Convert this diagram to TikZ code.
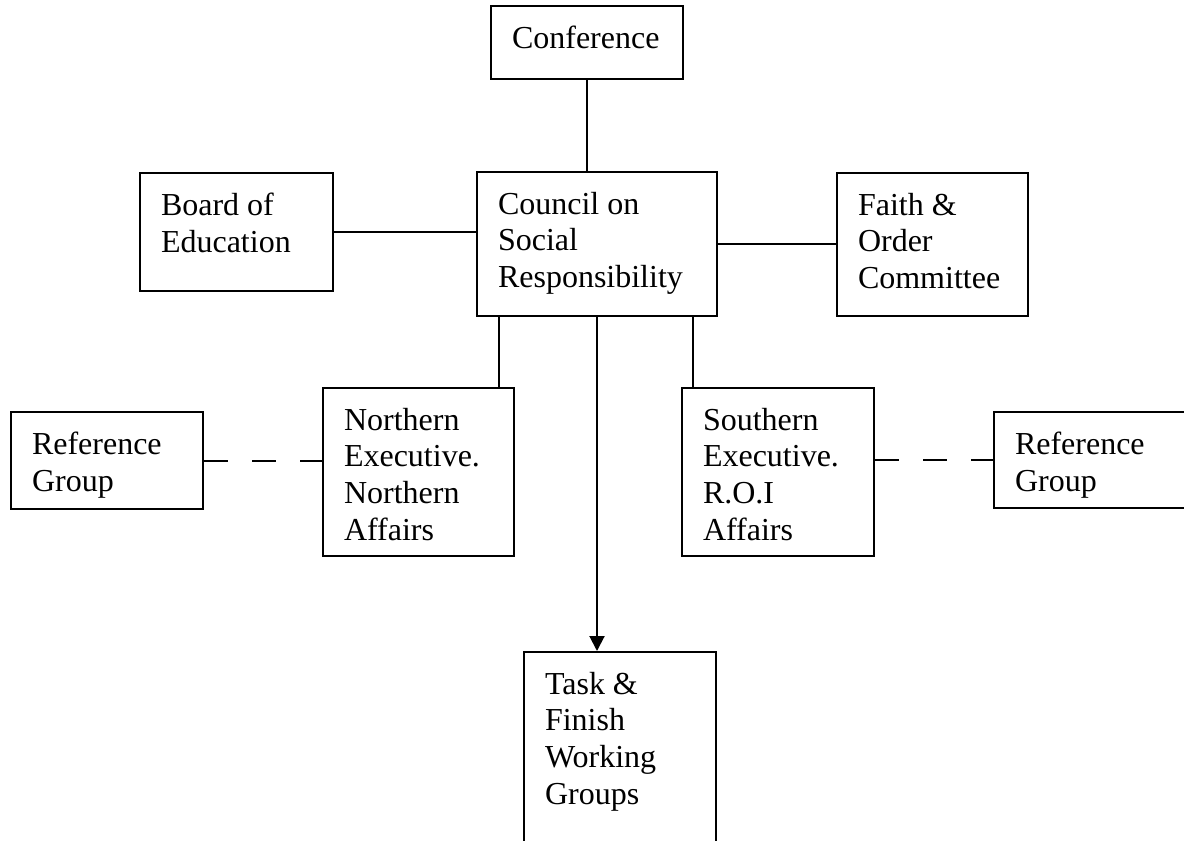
\documentclass[tikz,border=0pt]{standalone}
\usepackage{fontspec}
\setmainfont{Liberation Serif}
\usetikzlibrary{arrows.meta}
\newcommand{\boxtext}[3]{\parbox[b][#2][t]{#1}{\raggedright\leftskip=10.5pt\vspace*{10pt}#3}}
\tikzset{
    orgbox/.style={draw, line width=1pt, anchor=north west, inner sep=0pt,
        font=\fontsize{16}{18.3}\selectfont},
    orgline/.style={line width=1pt},
    reflink/.style={line width=1pt, dash pattern=on 12pt off 12pt}
}
\begin{document}
\begin{tikzpicture}[x=0.5pt, y=-0.5pt]
    \useasboundingbox (0,0) rectangle (1184,841);
    \clip (0,0) rectangle (1184,841);
    			\node[orgbox] (conf) at (490,5) {\boxtext{96pt}{36.5pt}{Conference}};
    			\node[orgbox] (council) at (476,171) {\boxtext{120pt}{72pt}{Council on\\ Social\\ Responsibility}};
    			\node[orgbox] (board) at (139,172) {\boxtext{96.5pt}{59pt}{Board of\\ Education}};
    			\node[orgbox] (faith) at (836,172) {\boxtext{95.5pt}{71.5pt}{Faith \&\\ Order\\ Committee}};

    			\node[orgbox] (north) at (322,387) {\boxtext{95.5pt}{84pt}{Northern\\ Executive.\\ Northern\\ Affairs}};
    			\node[orgbox] (south) at (681,387) {\boxtext{96pt}{84pt}{Southern\\ Executive.\\ R.O.I\\ Affairs}};
    			\node[orgbox] (refl) at (10,411) {\boxtext{96pt}{48.5pt}{Reference\\ Group}};
    			\node[orgbox] (refr) at (993,411) {\boxtext{96pt}{48pt}{Reference\\ Group}};

    			\node[orgbox] (task) at (523,651) {\boxtext{96pt}{130pt}{Task \&\\ Finish\\ Working\\ Groups}};

  		\draw[orgline] (conf.south) -- (conf.south |- council.north);
  		\draw[orgline] (board.east) -- (board.east -| council.west);
  		\draw[orgline] (council.east) -- (council.east -| faith.west);
  		\draw[orgline] ([xshift=11.5pt]council.south west) -- ([xshift=11.5pt]council.south west |- north.north);
  		\draw[orgline] ([xshift=-12.5pt]council.south east) -- ([xshift=-12.5pt]council.south east |- south.north);
  		\draw[orgline, -{Triangle[width=7.5pt, length=7.5pt]}] (council.south) -- (council.south |- task.north);
  		\draw[reflink] (refl.east) -- (refl.east -| north.west);
  		\draw[reflink] (refr.west -| south.east) -- (refr.west);
		\end{tikzpicture}
\end{document}
